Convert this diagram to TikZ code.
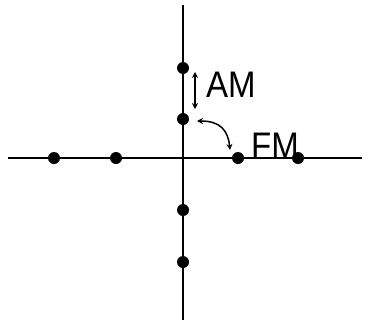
\documentclass[tikz,border=0pt]{standalone}
\usepackage{fontspec}
\setmainfont{Liberation Sans}
\usetikzlibrary{arrows.meta}
\begin{document}
\begin{tikzpicture}[x=1pt,y=-1pt,
  axis/.style={line width=2.2pt},
  dot/.style={circle,fill=black,inner sep=0pt,minimum size=12pt},
  lbl/.style={font=\fontsize{33}{33}\selectfont,inner sep=0pt,yscale=1.12,transform shape},
  arr/.style={line width=1.5pt,{Stealth[length=6pt,width=6pt]}-{Stealth[length=6pt,width=6pt]}}]
\useasboundingbox[fill=white] (0,0) rectangle (371,324);
\coordinate (vt) at (183,5);
\coordinate (vb) at (183,320);
\coordinate (hl) at (8,158);
\coordinate (hr) at (362,158);
\draw[axis] (vt) -- (vb);
\draw[axis] (hl) -- (hr);
\node[dot] (d1) at (183,68) {};
\node[dot] (d2) at (183,119) {};
\node[dot] (d3) at (54,158) {};
\node[dot] (d4) at (116,158) {};
\node[dot] (d5) at (238,158) {};
\node[dot] (d7) at (183,210) {};
\node[dot] (d8) at (183,262) {};
\node[lbl,anchor=base west] (am) at (206,97) {AM};
\node[lbl,anchor=base west] (fm) at (251,158) {FM};
\node[dot] (d6) at (298,158) {};
\coordinate (a1) at (195,72);
\coordinate (a2) at (195,109);
\draw[arr] (a1) -- (a2);
\coordinate (c1) at (197,121);
\coordinate (c2) at (230,150);
\draw[arr] (c1) .. controls (220,121) and (228,130) .. (c2);
\end{tikzpicture}
\end{document}
